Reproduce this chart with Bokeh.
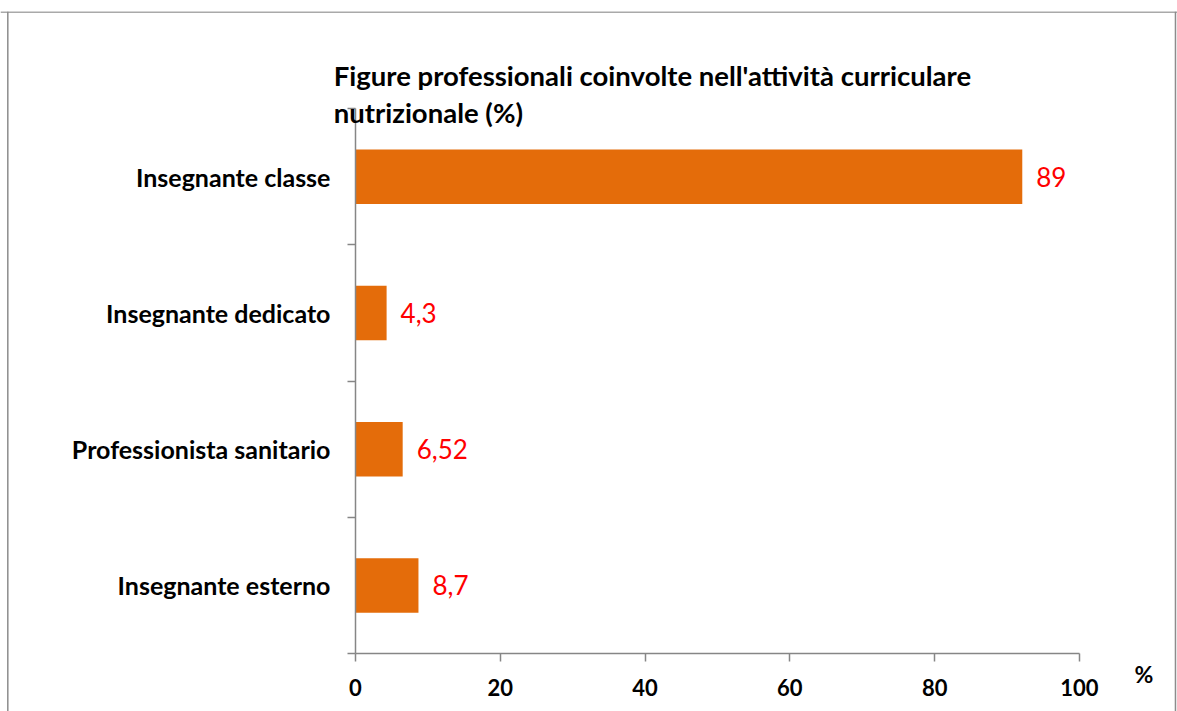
from bokeh.plotting import figure
from bokeh.models import ColumnDataSource, LabelSet, Label, FixedTicker, Range1d, Span
from bokeh.core.properties import value
from bokeh.embed import file_html
from bokeh.resources import INLINE

categories = ["Insegnante esterno", "Professionista sanitario", "Insegnante dedicato", "Insegnante classe"]
values = [8.7, 6.52, 4.3, 92.1]
value_labels = ["8,7", "6,52", "4,3", "89"]
x_ticks = [0, 20, 40, 60, 80, 100]
title_lines = ["Figure professionali coinvolte nell'attività curriculare", "nutrizionale (%)"]
unit_label = "%"

FONT = "Lato"
AXIS_COLOR = "#868686"
BAR_COLOR = "#E46C0A"
BORDER_COLOR = "#8c8c8c"

pos = [i + 0.5 for i in range(len(categories))]
src = ColumnDataSource(dict(y=pos, v=values, lab=value_labels, cat=categories))

# frame covers the canvas; axes are pinned at 0 with fixed_location
p = figure(width=1177, height=711, output_backend="svg", toolbar_location=None,
           x_range=Range1d(-49.03, 113.54), y_range=Range1d(-0.4257, 4.712),
           min_border_left=0, min_border_right=0, min_border_top=11, min_border_bottom=0)
p.title.visible = False
p.outline_line_color = None
p.grid.grid_line_color = None
p.background_fill_color = "white"
p.border_fill_color = "white"

p.hbar(y="y", right="v", left=0, height=0.4, source=src, fill_color=BAR_COLOR, line_color=None)

p.add_layout(LabelSet(x="v", y="y", text="lab", source=src, x_offset=14, text_color="#FF0000",
                      text_font=value(FONT), text_font_size="26px", text_baseline="middle",
                      text_align="left"))

# x axis
xa = p.xaxis[0]
xa.fixed_location = 0
xa.bounds = (0, 100)
xa.ticker = FixedTicker(ticks=x_ticks, minor_ticks=[])
xa.axis_line_color = AXIS_COLOR
xa.axis_line_width = 1.5
xa.major_tick_line_color = AXIS_COLOR
xa.major_tick_line_width = 1.5
xa.major_tick_in = 0
xa.major_tick_out = 8
xa.major_label_standoff = 18
xa.major_label_text_font = FONT
xa.major_label_text_font_style = "bold"
xa.major_label_text_font_size = "22px"
xa.major_label_text_color = "black"

# y axis: labels at centres, ticks at boundaries
ya = p.yaxis[0]
ya.fixed_location = 0
ya.bounds = (0, len(categories))
ya.ticker = FixedTicker(ticks=pos, minor_ticks=list(range(len(categories) + 1)))
ya.major_label_overrides = {pos[i]: categories[i] for i in range(len(categories))}
ya.axis_line_color = AXIS_COLOR
ya.axis_line_width = 1.5
ya.major_tick_line_color = None
ya.major_tick_in = 0
ya.major_tick_out = 0
ya.minor_tick_line_color = AXIS_COLOR
ya.minor_tick_line_width = 1.5
ya.minor_tick_in = 0
ya.minor_tick_out = 8
ya.major_label_standoff = 17
ya.major_label_text_font = FONT
ya.major_label_text_font_style = "bold"
ya.major_label_text_font_size = "25px"
ya.major_label_text_color = "black"

# title
p.add_layout(Label(x=-3.0, y=4.242, text=title_lines[0], text_font=FONT, text_font_style="bold",
                   text_font_size="27.5px", text_baseline="alphabetic", text_align="left",
                   text_color="black"))
p.add_layout(Label(x=-3.0, y=3.973, text=title_lines[1], text_font=FONT, text_font_style="bold",
                   text_font_size="27.5px", text_baseline="alphabetic", text_align="left",
                   text_color="black"))
# unit
p.add_layout(Label(x=108.9, y=-0.154, text=unit_label, text_font=FONT, text_font_style="bold",
                   text_font_size="23px", text_baseline="middle", text_align="center",
                   text_color="black"))

# chart-area border (left, top, right)
p.add_layout(Span(location=-48.02, dimension="height", line_color=BORDER_COLOR, line_width=1.5))
p.add_layout(Span(location=113.26, dimension="height", line_color=BORDER_COLOR, line_width=1.5))
p.add_layout(Span(location=4.709, dimension="width", line_color=BORDER_COLOR, line_width=1.5))

open("out.html", "w").write(file_html(p, INLINE))
